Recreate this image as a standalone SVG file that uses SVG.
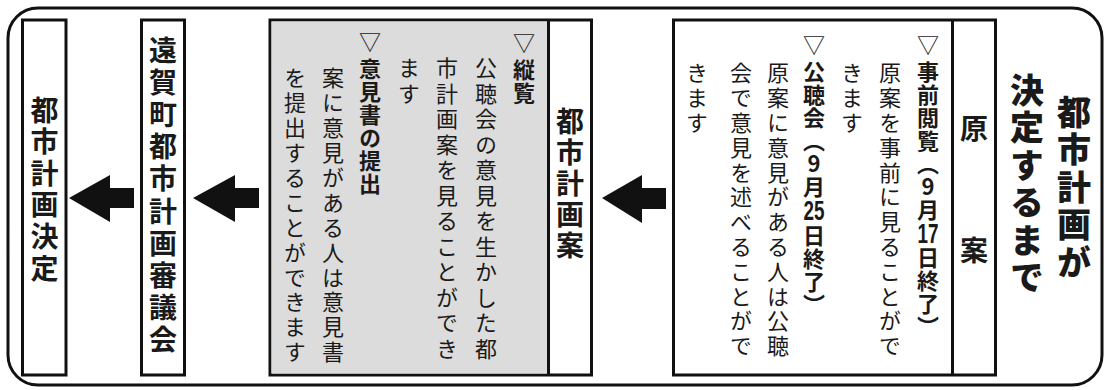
<svg xmlns="http://www.w3.org/2000/svg" width="1107" height="390" viewBox="0 0 1107 390">
<defs>
<style>
.v { writing-mode: vertical-rl; text-orientation: upright; font-family: "Noto Sans CJK JP", "Noto Sans CJK SC", sans-serif; fill: #1a1a1a; }
.r { font-size: 22px; font-weight: 400; letter-spacing: 3px; }
.b { font-size: 22px; font-weight: 700; letter-spacing: 1px; }
.tri { font-weight: 400; letter-spacing: 5px; }
.h { font-family: "Liberation Sans", "Noto Sans CJK JP", sans-serif; font-weight: 700; font-size: 27px; fill: #1a1a1a; text-anchor: middle; }
.s { font-size: 28px; font-weight: 700; }
.t { font-size: 34px; font-weight: 900; letter-spacing: 3.4px; }
.box { fill: #fff; stroke: #111; stroke-width: 3; }
.gray { fill: #dcdcdc; }
.frame { fill: none; stroke: #111; stroke-width: 3; }
.arrow { fill: #111; }
</style>
</defs>
<rect class="frame" x="8" y="8" width="1094" height="377" rx="30" ry="30"/>

<g id="title">
<text class="v t" x="1074" y="95">都市計画が</text>
<text class="v t" x="1027" y="73">決定するまで</text>
</g>

<g id="node-genan">
<rect class="box" x="673.5" y="20" width="322" height="355"/>
<line x1="952.5" y1="20" x2="952.5" y2="375" stroke="#111" stroke-width="3"/>
<text class="v s" x="974" y="114" style="letter-spacing:94px">原案</text>
<text class="v b" x="928" y="34"><tspan class="tri">▽</tspan>事前閲覧（9月</text>
<text class="h" x="928" y="243" textLength="21" lengthAdjust="spacingAndGlyphs">17</text>
<text class="v b" x="928" y="247">日終了）</text>
<text class="v r" x="890" y="62" style="letter-spacing:2.8px">原案を事前に見ることがで</text>
<text class="v r" x="852" y="62" style="letter-spacing:2.8px">きます</text>
<text class="v b" x="814" y="34"><tspan class="tri">▽</tspan>公聴会（9月</text>
<text class="h" x="814" y="220" textLength="21" lengthAdjust="spacingAndGlyphs">25</text>
<text class="v b" x="814" y="225">日終了）</text>
<text class="v r" x="778" y="62" style="letter-spacing:2.8px">原案に意見がある人は公聴</text>
<text class="v r" x="741" y="62" style="letter-spacing:2.8px">会で意見を述べることがで</text>
<text class="v r" x="697" y="62" style="letter-spacing:2.8px">きます</text>
</g>

<g id="node-toshikeikakuan">
<rect class="box" x="270" y="20" width="321.5" height="355"/>
<rect class="gray" x="271.5" y="21.5" width="277" height="352"/>
<line x1="548.5" y1="20" x2="548.5" y2="375" stroke="#111" stroke-width="3"/>
<text class="v s" x="570" y="107" style="letter-spacing:3px">都市計画案</text>
<text class="v b" x="524" y="32"><tspan class="tri">▽</tspan>縦覧</text>
<text class="v r" x="486" y="57" style="letter-spacing:3.5px">公聴会の意見を生かした都</text>
<text class="v r" x="447" y="57" style="letter-spacing:3.5px">市計画案を見ることができ</text>
<text class="v r" x="409" y="57" style="letter-spacing:3.5px">ます</text>
<text class="v b" x="370" y="31"><tspan class="tri">▽</tspan>意見書の提出</text>
<text class="v r" x="333" y="67" style="letter-spacing:2.9px">案に意見がある人は意見書</text>
<text class="v r" x="295" y="67" style="letter-spacing:2.9px">を提出することができます</text>
</g>

<g id="node-shingikai">
<rect class="box" x="141.5" y="20" width="43" height="355"/>
<text class="v s" x="163" y="36" style="letter-spacing:4.2px">遠賀町都市計画審議会</text>
</g>

<g id="node-kettei">
<rect class="box" x="22.5" y="20" width="43.5" height="355"/>
<text class="v s" x="44.5" y="96" style="letter-spacing:3.6px">都市計画決定</text>
</g>

<g id="connectors">
<polygon class="arrow" points="602,198 642,175 642,188 666,188 666,209 642,209 642,223"/>
<polygon class="arrow" points="193,198 235,175 235,188 259,188 259,208 235,208 235,222"/>
<polygon class="arrow" points="69,198 110,175 110,188 134,188 134,208 110,208 110,222"/>
</g>
</svg>
